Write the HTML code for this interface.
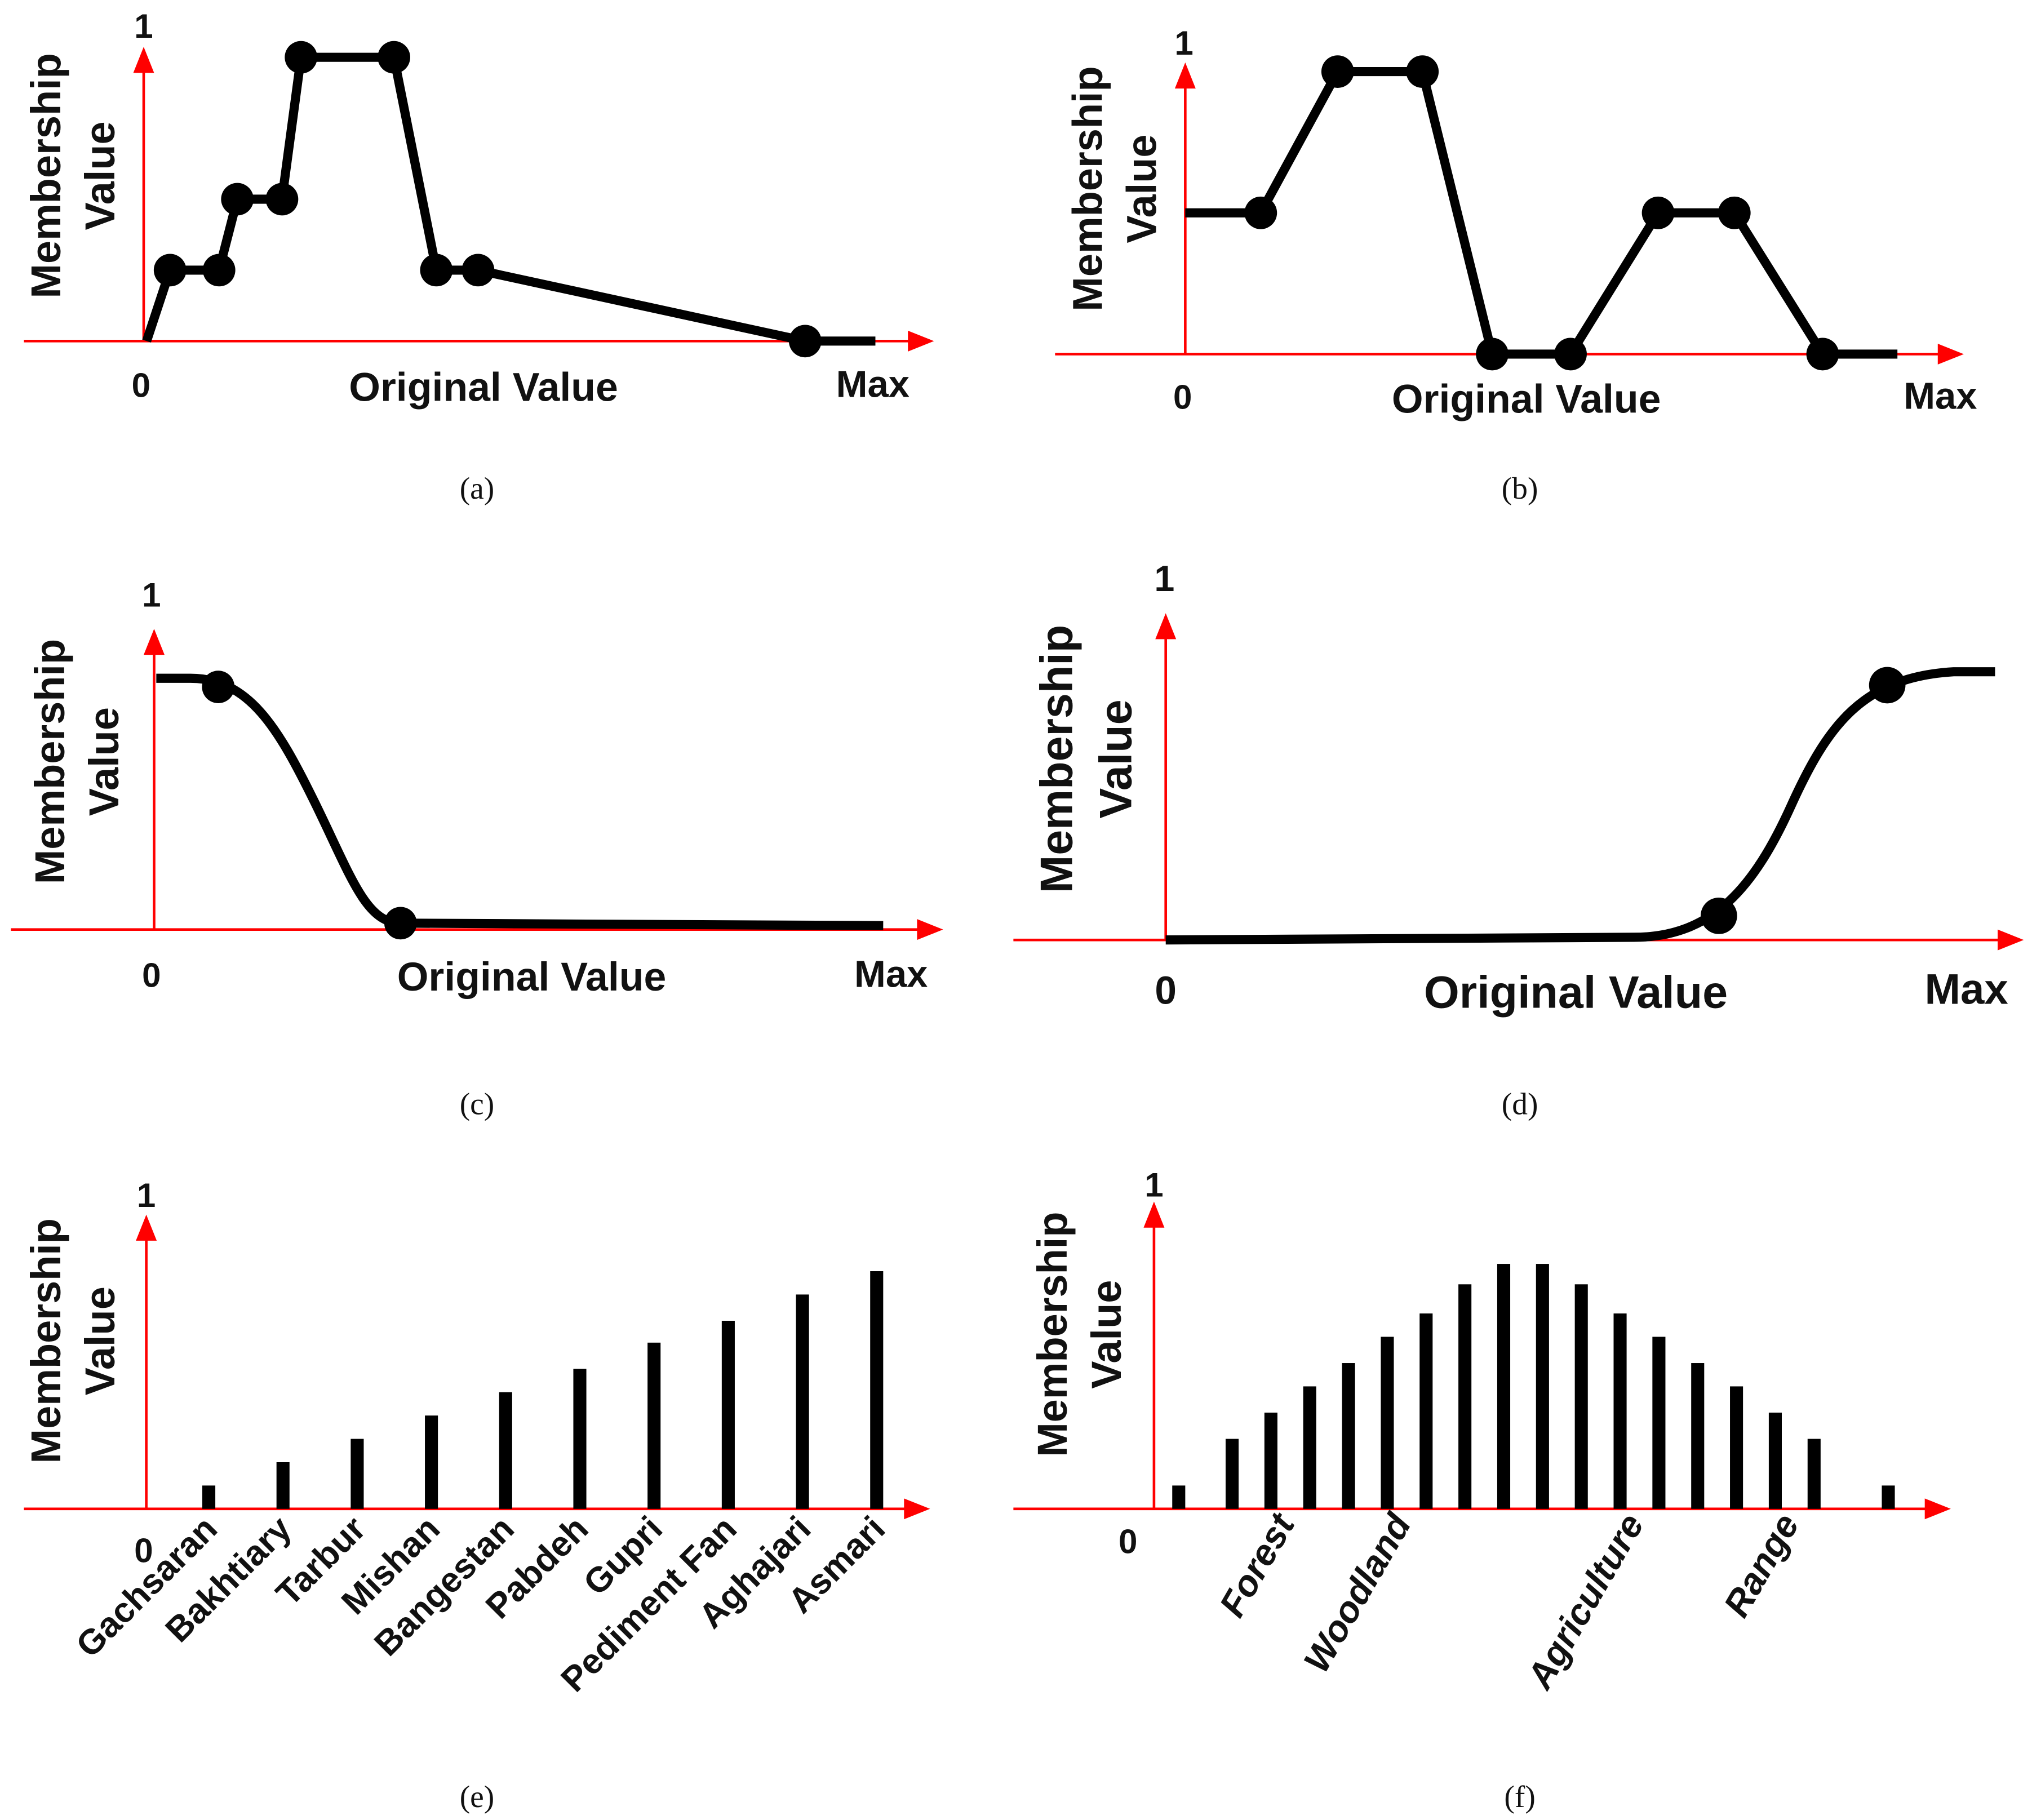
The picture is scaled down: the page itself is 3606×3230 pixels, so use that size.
<!DOCTYPE html>
<html><head><meta charset="utf-8">
<style>
html,body{margin:0;padding:0;background:#fff;}
svg{display:block;}
.lbl{font-family:"Liberation Sans","DejaVu Sans",sans-serif;font-weight:bold;fill:#111;}
.cap{font-family:"Liberation Serif",serif;fill:#111;}
</style></head>
<body>
<svg id="fig" width="3606" height="3230" viewBox="0 0 1560 1398" xmlns="http://www.w3.org/2000/svg"></svg>
<script>
// Panel (a): membership function points (x as fraction of 0..Max, y as membership)
const aX = [0.004, 0.036, 0.103, 0.128, 0.189, 0.215, 0.342, 0.400, 0.457, 0.904, 1.0];
const aY = [0, 0.25, 0.25, 0.5, 0.5, 1, 1, 0.25, 0.25, 0, 0];
const aMarkers = [1,2,3,4,5,6,7,8,9];
// Panel (b)
const bX = [0, 0.106, 0.214, 0.333, 0.431, 0.541, 0.664, 0.771, 0.895, 1.0];
const bY = [0.5, 0.5, 1, 1, 0, 0, 0.5, 0.5, 0, 0];
const bMarkers = [1,2,3,4,5,6,7,8];
// Panel (c): decreasing sigmoid (line, two cubics, line)
const cX = [0.003, 0.05, 0.13, 0.17, 0.22, 0.27, 0.29, 0.338, 1.0];
const cY = [1, 1, 1, 0.80, 0.5, 0.20, 0.01, 0.01, 0];
const cMarkers = [[0.088, 0.965],[0.338, 0.01]];
// Panel (d): increasing sigmoid
const dX = [0, 0.565, 0.66, 0.71, 0.754, 0.798, 0.84, 0.95, 1.0];
const dY = [0, 0.01, 0.01, 0.2, 0.5, 0.8, 0.98, 1.0, 1.0];
const dMarkers = [[0.667, 0.09],[0.870, 0.95]];
// Panel (e)
const eCats = ["Gachsaran","Bakhtiary","Tarbur","Mishan","Bangestan","Pabdeh","Gupri","Pediment Fan","Aghajari","Asmari"];
const eVals = [0.08, 0.16, 0.24, 0.32, 0.40, 0.48, 0.57, 0.645, 0.735, 0.815];
// Panel (f)
const fVals = [0.08, 0.24, 0.33, 0.42, 0.50, 0.59, 0.67, 0.77, 0.84, 0.84, 0.77, 0.67, 0.59, 0.50, 0.42, 0.33, 0.24, 0.08];
const fLabels = ["Forest","Woodland","Agriculture","Range"];
const fLabelPos = [2.5, 5.5, 11.5, 15.5];

const NS="http://www.w3.org/2000/svg";
const svg=document.getElementById('fig');
function el(tag, attrs, parent){const e=document.createElementNS(NS,tag);for(const k in attrs)e.setAttribute(k,attrs[k]);(parent||svg).appendChild(e);return e;}
function txt(s,x,y,cls,size,extra,parent){const t=el('text',Object.assign({x:x,y:y,class:cls,'font-size':size,'text-anchor':'middle'},extra||{}),parent);t.textContent=s;return t;}

function axes(g, ox, oy, xl, xr, ytop){
  const xa=el('line',{x1:xl,y1:oy,x2:xr-14,y2:oy,stroke:'#f00','stroke-width':2},g);
  
  
  const xh=el('polygon',{points:`${xr},${oy} ${xr-20},${oy-8} ${xr-20},${oy+8}`,fill:'#f00'},g);
  
  
  const ya=el('line',{x1:ox,y1:oy,x2:ox,y2:ytop+14,stroke:'#f00','stroke-width':2},g);
  
  
  const yh=el('polygon',{points:`${ox},${ytop} ${ox-8},${ytop+20} ${ox+8},${ytop+20}`,fill:'#f00'},g);
  
  
}
function ytitle(g, x, y, size){
  const t1=txt('Membership',x,y,'lbl',size,{transform:`rotate(-90 ${x} ${y})`},g);
  
  
  const x2=x+size*1.3;
  const t2=txt('Value',x2,y,'lbl',size,{transform:`rotate(-90 ${x2} ${y})`},g);
  
  
}
function label(g,s,x,y,size,name,cls){const t=txt(s,x,y,cls||'lbl',size,{},g);return t;}
function panel(name){const g=el('g',{});return g;}

// Panel a
(function(){
  const g=panel('panel-a');
  const x0=110,x1=672,y0=262,y1=44;
  const sx=v=>x0+v*(x1-x0), sy=v=>y0-v*(y0-y1);
  axes(g,110,262,18,717,36);
  const p=el('polyline',{points:aX.map((v,i)=>sx(v)+','+sy(aY[i])).join(' '),fill:'none',stroke:'#000','stroke-width':7,'stroke-linejoin':'round'},g);
  
  
  aMarkers.forEach(i=>{const c=el('circle',{cx:sx(aX[i]),cy:sy(aY[i]),r:12.5,fill:'#000'},g);
    
    });
  label(g,'1',110,29,26,'y-max-label');
  label(g,'0',108,305,26,'x-origin-label');
  label(g,'Original Value',371,308,31,'x-axis-title');
  label(g,'Max',670,305,29,'x-max-label');
  ytitle(g,46,135,32);
  label(g,'(a)',366,383,24,'caption-a','cap');
})();
// Panel b
(function(){
  const g=panel('panel-b');
  const x0=910,x1=1457,y0=272,y1=55;
  const sx=v=>x0+v*(x1-x0), sy=v=>y0-v*(y0-y1);
  axes(g,910,272,810,1508,48);
  const p=el('polyline',{points:bX.map((v,i)=>sx(v)+','+sy(bY[i])).join(' '),fill:'none',stroke:'#000','stroke-width':7,'stroke-linejoin':'round'},g);
  
  
  bMarkers.forEach(i=>{const c=el('circle',{cx:sx(bX[i]),cy:sy(bY[i]),r:12.5,fill:'#000'},g);
    
    });
  label(g,'1',909,42,26,'y-max-label');
  label(g,'0',908,314,26,'x-origin-label');
  label(g,'Original Value',1172,317,31,'x-axis-title');
  label(g,'Max',1490,314,29,'x-max-label');
  ytitle(g,846,145,32);
  label(g,'(b)',1167,383,24,'caption-b','cap');
})();
function curve(g,X,Y,sx,sy){
  const P=i=>sx(X[i])+','+sy(Y[i]);
  const d=`M${P(0)} L${P(1)} C${P(2)} ${P(3)} ${P(4)} C${P(5)} ${P(6)} ${P(7)} L${P(8)}`;
  const p=el('path',{d:d,fill:'none',stroke:'#000','stroke-width':7,'stroke-linecap':'butt'},g);
  
  
}
// Panel c
(function(){
  const g=panel('panel-c');
  const x0=118,x1=678,y0=711,y1=521;
  const sx=v=>x0+v*(x1-x0), sy=v=>y0-v*(y0-y1);
  axes(g,118,714,8,724,483);
  curve(g,cX,cY,sx,sy);
  cMarkers.forEach(m=>{const c=el('circle',{cx:sx(m[0]),cy:sy(m[1]),r:12.5,fill:'#000'},g);
    
    });
  label(g,'1',116,466,26,'y-max-label');
  label(g,'0',116,758,26,'x-origin-label');
  label(g,'Original Value',408,761,31,'x-axis-title');
  label(g,'Max',684,758,29,'x-max-label');
  ytitle(g,49,585,32);
  label(g,'(c)',366,856,24,'caption-c','cap');
})();
// Panel d
(function(){
  const g=panel('panel-d');
  const x0=895,x1=1532,y0=722,y1=516;
  const sx=v=>x0+v*(x1-x0), sy=v=>y0-v*(y0-y1);
  axes(g,895,722,778,1554,471);
  curve(g,dX,dY,sx,sy);
  dMarkers.forEach(m=>{const c=el('circle',{cx:sx(m[0]),cy:sy(m[1]),r:14,fill:'#000'},g);
    
    });
  label(g,'1',894,454,28,'y-max-label');
  label(g,'0',895,771,30,'x-origin-label');
  label(g,'Original Value',1210,774,35,'x-axis-title');
  label(g,'Max',1510,771,33,'x-max-label');
  ytitle(g,823,583,35);
  label(g,'(d)',1167,856,24,'caption-d','cap');
})();
// Panel e
(function(){
  const g=panel('panel-e');
  const y0=1159,y1=935;
  const sy=v=>y0-v*(y0-y1);
  const sx=i=>160+i*57;
  axes(g,112,1159,18,714,933);
  eVals.forEach((v,i)=>{const r=el('rect',{x:sx(i)-5,y:sy(v),width:10,height:y0-sy(v),fill:'#000'},g);
    
    });
  eCats.forEach((c,i)=>{const x=sx(i)+8,y=1176;const t=txt(c,x,y,'lbl',27,{'text-anchor':'end',transform:`rotate(-45 ${x} ${y})`},g);
    
    });
  label(g,'1',112,927,26,'y-max-label');
  label(g,'0',110,1200,26,'x-origin-label');
  ytitle(g,46,1030,32);
  label(g,'(e)',366,1388,24,'caption-e','cap');
})();
// Panel f
(function(){
  const g=panel('panel-f');
  const y0=1159,y1=935;
  const sy=v=>y0-v*(y0-y1);
  const sx=i=>i===0?905:(i===fVals.length-1?1450:946+(i-1)*(1393-946)/15);
  axes(g,886,1159,778,1498,923);
  fVals.forEach((v,i)=>{const r=el('rect',{x:sx(i)-5,y:sy(v),width:10,height:y0-sy(v),fill:'#000'},g);
    
    });
  fLabels.forEach((c,i)=>{const x=sx(fLabelPos[i])+4,y=1170;const t=txt(c,x,y,'lbl',28,{'text-anchor':'end','font-style':'italic',transform:`rotate(-60 ${x} ${y})`},g);
    
    });
  label(g,'1',886,919,26,'y-max-label');
  label(g,'0',866,1193,26,'x-origin-label');
  ytitle(g,819,1025,32);
  label(g,'(f)',1167,1388,24,'caption-f','cap');
})();
</script>
</body></html>
